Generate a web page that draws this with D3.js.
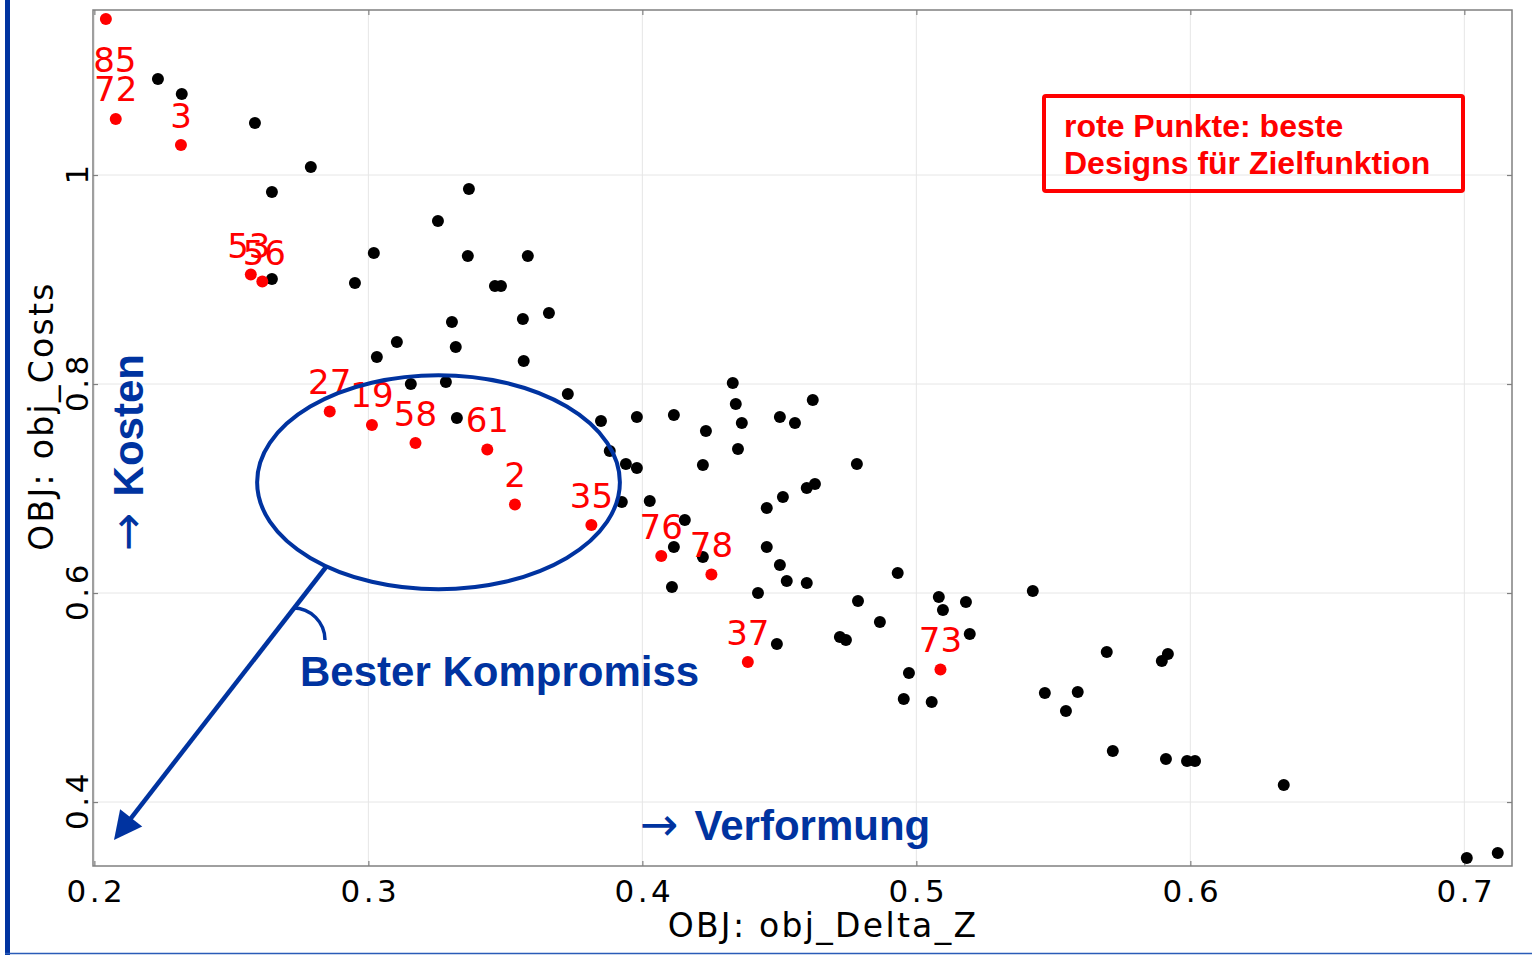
<!DOCTYPE html>
<html>
<head>
<meta charset="utf-8">
<script src="https://cdn.jsdelivr.net/npm/d3@7"></script>
<style>
  body { margin: 0; background: #fff; }
  svg { display: block; }
</style>
</head>
<body>
<svg width="1532" height="955"></svg>
<script>
// all designs: obj_Delta_Z (x) and obj_Costs (y)
const blackX = [0.2232, 0.2319, 0.2586, 0.2790, 0.2648, 0.3367, 0.3254, 0.3363, 0.3582, 0.3020,
  0.2951, 0.2648, 0.3462, 0.3484, 0.3305, 0.3564, 0.3659, 0.3104, 0.3031, 0.3319,
  0.3567, 0.3155, 0.3283, 0.3728, 0.3323, 0.3849, 0.3980, 0.4115, 0.4330, 0.4341,
  0.4363, 0.4232, 0.4502, 0.4557, 0.4622, 0.3881, 0.3940, 0.3980, 0.4221, 0.4349,
  0.4783, 0.3925, 0.4027, 0.4155, 0.4513, 0.4454, 0.4600, 0.4630, 0.4115, 0.4221,
  0.4454, 0.4502, 0.4527, 0.4108, 0.4422, 0.4600, 0.4932, 0.4787, 0.5082, 0.5181,
  0.5097, 0.5425, 0.4867, 0.4721, 0.4743, 0.5195, 0.4491, 0.4973, 0.4954, 0.5056,
  0.5695, 0.5896, 0.5918, 0.5469, 0.5589, 0.5546, 0.5717, 0.5911, 0.5988, 0.6017,
  0.6341, 0.7009, 0.7122]
const blackY = [1.0919, 1.0775, 1.0498, 1.0077, 0.9837, 0.9866, 0.9560, 0.9225, 0.9225, 0.9254,
  0.8967, 0.9005, 0.8938, 0.8938, 0.8593, 0.8622, 0.8679, 0.8402, 0.8258, 0.8354,
  0.8220, 0.8000, 0.8019, 0.7904, 0.7675, 0.7646, 0.7684, 0.7703, 0.8010, 0.7809,
  0.7627, 0.7550, 0.7684, 0.7627, 0.7847, 0.7359, 0.7234, 0.7196, 0.7225, 0.7378,
  0.7234, 0.6871, 0.6880, 0.6699, 0.6919, 0.6813, 0.7005, 0.7043, 0.6440, 0.6344,
  0.6440, 0.6268, 0.6115, 0.6057, 0.6000, 0.6096, 0.6191, 0.5923, 0.5962, 0.5914,
  0.5837, 0.6019, 0.5722, 0.5579, 0.5550, 0.5608, 0.5512, 0.5234, 0.4986, 0.4957,
  0.5435, 0.5349, 0.5416, 0.5043, 0.5053, 0.4871, 0.4488, 0.4411, 0.4392, 0.4392,
  0.4163, 0.3464, 0.3512]

// best designs (red)
const redIds = [85, 72, 3, 53, 56, 27, 19, 58, 61, 2, 35, 76, 78, 37, 73]
const redX = [0.2042, 0.2078, 0.2316, 0.2571, 0.2613, 0.2859, 0.3013, 0.3172, 0.3434, 0.3535,
  0.3814, 0.4069, 0.4252, 0.4385, 0.5088]
const redY = [1.1493, 1.0536, 1.0287, 0.9048, 0.8981, 0.7737, 0.7608, 0.7435, 0.7373, 0.6847,
  0.6651, 0.6354, 0.6177, 0.5340, 0.5268]

const xTicks = [0.2, 0.3, 0.4, 0.5, 0.6, 0.7]
const yTicks = [0.4, 0.6, 0.8, 1]

const blue = '#0033a0'
const svg = d3.select('svg')

// blue slide frame
svg.append('rect').attr('x', 5).attr('y', 0).attr('width', 5).attr('height', 955).attr('fill', blue)
svg.append('line').attr('x1', 5).attr('x2', 1532).attr('y1', 953.5).attr('y2', 953.5)
  .attr('stroke', '#2a5cb8').attr('stroke-width', 1.5)

const margin = {top: 10, left: 93}
const w = 1419, h = 856

const x = d3.scaleLinear().domain([0.1995, 0.7174]).range([0, w])
const y = d3.scaleLinear().domain([0.3388, 1.1579]).range([h, 0])

const g = svg.append('g').attr('transform', `translate(${margin.left},${margin.top})`)

// grid
g.selectAll('.gx').data(xTicks).enter().append('line')
  .attr('x1', d => x(d)).attr('x2', d => x(d)).attr('y1', 0).attr('y2', h)
  .attr('stroke', '#e6e6e6').attr('stroke-width', 1)
g.selectAll('.gy').data(yTicks).enter().append('line')
  .attr('x1', 0).attr('x2', w).attr('y1', d => y(d)).attr('y2', d => y(d))
  .attr('stroke', '#e6e6e6').attr('stroke-width', 1)

// axes with inward ticks on every side
const axStyle = sel => {
  sel.select('.domain').remove()
  sel.selectAll('.tick line').attr('stroke', '#808080').attr('stroke-width', 1.2)
}
g.append('g').attr('transform', `translate(0,${h})`)
  .call(d3.axisBottom(x).tickValues(xTicks).tickSizeInner(-5).tickFormat(''))
  .call(axStyle)
g.append('g')
  .call(d3.axisTop(x).tickValues(xTicks).tickSizeInner(-5).tickFormat(''))
  .call(axStyle)
g.append('g')
  .call(d3.axisLeft(y).tickValues(yTicks).tickSizeInner(-5).tickFormat(''))
  .call(axStyle)
g.append('g').attr('transform', `translate(${w},0)`)
  .call(d3.axisRight(y).tickValues(yTicks).tickSizeInner(-5).tickFormat(''))
  .call(axStyle)

g.append('rect').attr('width', w).attr('height', h)
  .attr('fill', 'none').attr('stroke', '#808080').attr('stroke-width', 1.5)

// tick labels
g.selectAll('.xl').data(xTicks).enter().append('text')
  .attr('x', d => x(d) + 2).attr('y', h + 36)
  .attr('text-anchor', 'middle')
  .style('font-family', 'DejaVu Sans').style('font-size', '31px').style('letter-spacing', '3.5px')
  .text(d => d)
g.selectAll('.yl').data(yTicks).enter().append('text')
  .attr('transform', d => `translate(-5,${y(d) - 2}) rotate(-90)`)
  .attr('text-anchor', 'middle')
  .style('font-family', 'DejaVu Sans').style('font-size', '31px').style('letter-spacing', '3.5px')
  .text(d => d)

// axis titles
svg.append('text').attr('x', 823).attr('y', 937).attr('text-anchor', 'middle')
  .style('font-family', 'DejaVu Sans').style('font-size', '33px').style('letter-spacing', '2.3px')
  .text('OBJ: obj_Delta_Z')
svg.append('text').attr('transform', 'translate(53,416) rotate(-90)').attr('text-anchor', 'middle')
  .style('font-family', 'DejaVu Sans').style('font-size', '33px').style('letter-spacing', '2.3px')
  .text('OBJ: obj_Costs')

// points
const blackPts = blackX.map((v, i) => ({x: v, y: blackY[i]}))
const redPts = redIds.map((id, i) => ({id, x: redX[i], y: redY[i]}))

g.selectAll('.bp').data(blackPts).enter().append('circle')
  .attr('cx', d => x(d.x)).attr('cy', d => y(d.y)).attr('r', 6).attr('fill', '#000')
g.selectAll('.rp').data(redPts).enter().append('circle')
  .attr('cx', d => x(d.x)).attr('cy', d => y(d.y)).attr('r', 6).attr('fill', '#ff0000')

// labels sit above their point, 85 is pushed below the top border
const labelNudge = {85: [9, 53], 53: [-2, -17], 56: [2, -17]}
g.selectAll('.rl').data(redPts).enter().append('text')
  .attr('x', d => x(d.x) + (labelNudge[d.id] ? labelNudge[d.id][0] : 0))
  .attr('y', d => y(d.y) + (labelNudge[d.id] ? labelNudge[d.id][1] : -17.5))
  .attr('text-anchor', 'middle')
  .style('font-family', 'DejaVu Sans').style('font-size', '34px')
  .attr('fill', '#ff0000')
  .text(d => d.id)

// annotations
g.append('ellipse')
  .attr('cx', x(0.3256)).attr('cy', y(0.706))
  .attr('rx', x(0.3256 + 0.0662) - x(0.3256)).attr('ry', y(0.706) - y(0.706 + 0.1024))
  .attr('fill', 'none').attr('stroke', blue).attr('stroke-width', 4)

const tip = [114, 840], start = [326, 567]
const len = Math.hypot(tip[0] - start[0], tip[1] - start[1])
const u = [(tip[0] - start[0]) / len, (tip[1] - start[1]) / len]
const base = [tip[0] - 28 * u[0], tip[1] - 28 * u[1]]
svg.append('line').attr('x1', start[0]).attr('y1', start[1])
  .attr('x2', base[0] + 4 * u[0]).attr('y2', base[1] + 4 * u[1])
  .attr('stroke', blue).attr('stroke-width', 4.5)
svg.append('path')
  .attr('d', `M${tip}L${base[0] + 14 * u[1]},${base[1] - 14 * u[0]}L${base[0] - 14 * u[1]},${base[1] + 14 * u[0]}Z`)
  .attr('fill', blue)
svg.append('path').attr('d', 'M293,608 A32,32 0 0 1 325,640')
  .attr('fill', 'none').attr('stroke', blue).attr('stroke-width', 3.5)

const boldText = (xx, yy, txt, col, size) => svg.append('text')
  .attr('x', xx).attr('y', yy)
  .style('font-family', 'Liberation Sans, Arial, sans-serif').style('font-weight', 'bold')
  .style('font-size', size + 'px').attr('fill', col).text(txt)

// direction labels: thin arrow glyph then bold word
const arrowLabel = (sel, word) => {
  sel.append('tspan').style('font-family', 'DejaVu Sans').style('font-weight', 'normal')
    .style('font-size', '46px').text('\u2192')
  sel.append('tspan').attr('dx', 16).text(word)
  return sel
}

boldText(300, 686, 'Bester Kompromiss', blue, 42)
arrowLabel(boldText(640, 840, '', blue, 42), 'Verformung')
arrowLabel(boldText(0, 0, '', blue, 42), 'Kosten').attr('transform', 'translate(143,551) rotate(-90)')

// legend box
svg.append('rect').attr('x', 1044).attr('y', 96).attr('width', 419).attr('height', 95)
  .attr('rx', 2).attr('fill', 'none').attr('stroke', '#ff0000').attr('stroke-width', 4)
boldText(1064, 137, 'rote Punkte: beste', '#ff0000', 32)
boldText(1064, 174, 'Designs f\u00fcr Zielfunktion', '#ff0000', 32)
</script>
</body>
</html>
